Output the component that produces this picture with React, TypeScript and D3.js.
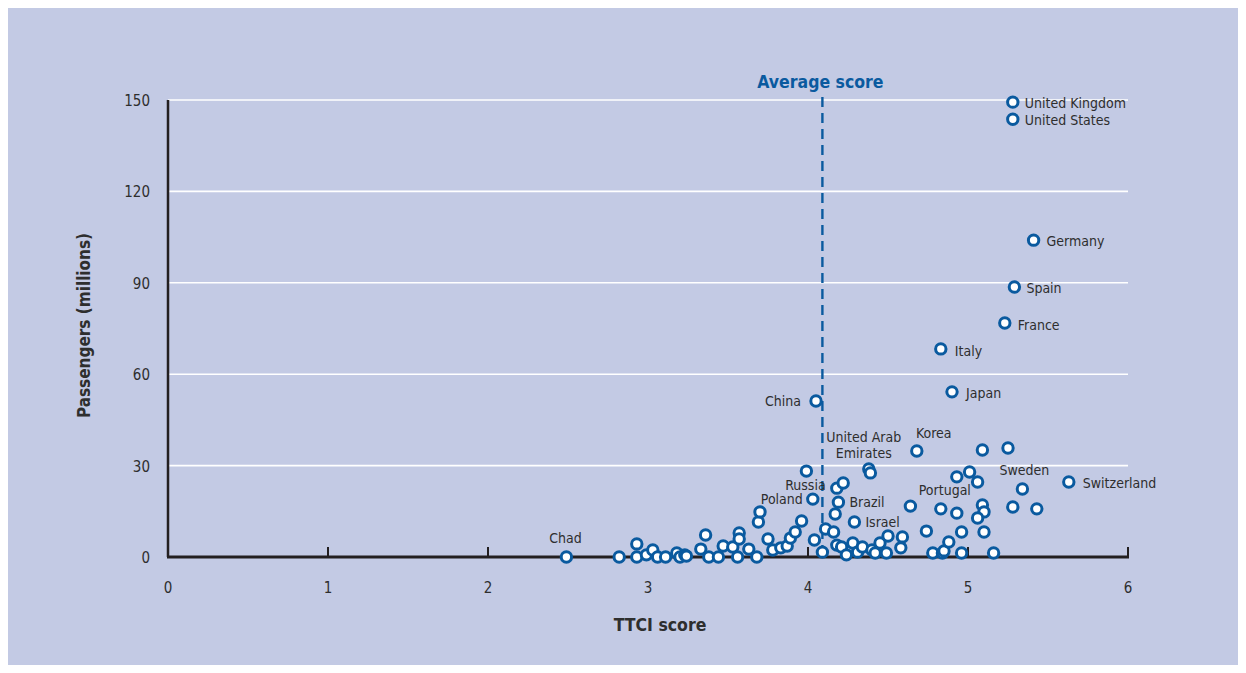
import React from "react";
import * as d3 from "d3";

// ---- Data ----
const countries: string[] = [
  "United Kingdom", "United States", "Germany", "Spain", "France", "Italy", "Japan", "China",
  "Korea", "Switzerland", "Sweden", "Portugal", "Russia", "Poland", "Brazil", "Israel",
  "United Arab Emirates", "Chad",
];
const ttciScores: number[] = [
  5.28, 5.28, 5.41, 5.29, 5.23, 4.83, 4.90, 4.05,
  4.68, 5.63, 5.34, 4.83, 3.99, 4.03, 4.19, 4.29,
  4.38, 2.49,
  2.82, 2.93, 2.93, 2.99, 3.03, 3.06, 3.11, 3.18, 3.20, 3.23, 3.24, 3.33, 3.36, 3.38, 3.44, 3.47,
  3.53, 3.56, 3.57, 3.57, 3.63, 3.68, 3.69, 3.70, 3.75, 3.78, 3.83, 3.87, 3.89, 3.92, 3.96,
  4.04, 4.09, 4.11, 4.16, 4.18, 4.22, 4.17, 4.39, 4.18, 4.21, 4.24, 4.28, 4.31, 4.34, 4.40,
  4.42, 4.45, 4.49, 4.50, 4.59, 4.58, 4.64, 4.74, 4.78, 4.84, 4.85, 4.88, 4.93, 4.96, 4.96,
  4.93, 5.01, 5.06, 5.09, 5.25, 5.09, 5.10, 5.06, 5.10, 5.16, 5.28, 5.43,
];
const passengers: number[] = [
  149.3, 143.7, 104.0, 88.6, 76.8, 68.3, 54.2, 51.2,
  34.8, 24.6, 22.3, 15.8, 28.2, 19.0, 18.0, 11.5,
  28.9, 0,
  0, 0, 4.3, 0.7, 2.3, 0, 0, 1.3, 0, 0.7, 0.3, 2.6, 7.2, 0, 0, 3.6,
  3.3, 0, 7.9, 5.9, 2.6, 0, 11.5, 14.8, 5.9, 2.3, 3.0, 3.6, 6.2, 8.2, 11.8,
  5.6, 1.6, 9.2, 8.2, 22.6, 24.3, 14.1, 27.6, 3.9, 3.3, 0.7, 4.6, 1.6, 3.3, 2.3,
  1.3, 4.6, 1.3, 6.9, 6.6, 3.0, 16.7, 8.5, 1.3, 1.3, 2.0, 4.9, 14.4, 8.2, 1.3,
  26.3, 27.9, 24.6, 35.1, 35.8, 17.1, 14.8, 12.8, 8.2, 1.3, 16.4, 15.8,
];
const xTicks: number[] = [0, 1, 2, 3, 4, 5, 6];
const yTicks: number[] = [0, 30, 60, 90, 120, 150];
const averageScore = 4.09;

// label placement (styles, kept apart from data)
type LabelPos = { dx: number; dy: number; anchor: "start" | "middle" | "end"; lines?: string[] };
const labelPlacement: Record<string, LabelPos> = {
  "United Kingdom": { dx: 12, dy: 6, anchor: "start" },
  "United States": { dx: 12, dy: 6, anchor: "start" },
  Germany: { dx: 13, dy: 6, anchor: "start" },
  Spain: { dx: 12, dy: 6, anchor: "start" },
  France: { dx: 13, dy: 7, anchor: "start" },
  Italy: { dx: 14, dy: 7, anchor: "start" },
  Japan: { dx: 14, dy: 6, anchor: "start" },
  China: { dx: -15, dy: 5, anchor: "end" },
  Korea: { dx: 17, dy: -13, anchor: "middle" },
  Switzerland: { dx: 14, dy: 6, anchor: "start" },
  Sweden: { dx: 2, dy: -14, anchor: "middle" },
  Portugal: { dx: 4, dy: -14, anchor: "middle" },
  Russia: { dx: -1, dy: 19, anchor: "middle" },
  Poland: { dx: -10, dy: 5, anchor: "end" },
  Brazil: { dx: 11, dy: 5, anchor: "start" },
  Israel: { dx: 11, dy: 5, anchor: "start" },
  "United Arab Emirates": { dx: -5, dy: -27, anchor: "middle", lines: ["United Arab", "Emirates"] },
  Chad: { dx: -1, dy: -14, anchor: "middle" },
};

const W = 1230;
const H = 657;
const BG = "#c3cae4";
const BLUE = "#0a5a9f";
const TEXT = "#2e2e2e";
const FONT = "'Liberation Sans Narrow', 'DejaVu Sans Condensed', 'Arial Narrow', sans-serif";

export default function App() {
  const x = d3.scaleLinear().domain([0, 6]).range([160, 1120]);
  const y = d3.scaleLinear().domain([0, 150]).range([549, 92]);

  const points = ttciScores.map((s, i) => ({ s, p: passengers[i], name: countries[i] || "" }));

  return (
    <svg width={W} height={H} style={{ display: "block" }} fontFamily={FONT}>
      <rect x={0} y={0} width={W} height={H} fill={BG} />
      {/* gridlines */}
      {yTicks.filter((t) => t > 0).map((t) => (
        <line key={"g" + t} x1={x(0)} x2={x(6)} y1={y(t)} y2={y(t)} stroke="#ffffff" strokeWidth={1.6} />
      ))}
      {/* y tick labels */}
      {yTicks.map((t) => (
        <text key={"yl" + t} x={x(0) - 18} y={y(t) + 6} textAnchor="end" fontSize={15} fill={TEXT}>
          {t}
        </text>
      ))}
      {/* x tick labels */}
      {xTicks.map((t) => (
        <text key={"xl" + t} x={x(t)} y={y(0) + 36} textAnchor="middle" fontSize={15} fill={TEXT}>
          {t}
        </text>
      ))}
      {/* x ticks */}
      {xTicks.map((t) => (
        <line key={"xt" + t} x1={x(t)} x2={x(t)} y1={y(0)} y2={y(0) - 10} stroke="#231f20" strokeWidth={2} />
      ))}
      {/* axes */}
      <line x1={x(0)} x2={x(0)} y1={y(150)} y2={y(0)} stroke="#231f20" strokeWidth={2.5} />
      <line x1={x(0) - 1} x2={x(6) + 1} y1={y(0)} y2={y(0)} stroke="#231f20" strokeWidth={3} />
      {/* average line */}
      <line
        x1={x(averageScore)}
        x2={x(averageScore)}
        y1={y(150) - 3}
        y2={y(0)}
        stroke={BLUE}
        strokeWidth={2.4}
        strokeDasharray="10,6"
      />
      <text x={x(averageScore) - 2} y={80} textAnchor="middle" fontSize={17.5} fontWeight="bold" fill={BLUE}>
        Average score
      </text>
      {/* points */}
      {points.map((d, i) => (
        <circle key={"p" + i} cx={x(d.s)} cy={y(d.p)} r={5.2} fill="#ffffff" stroke={BLUE} strokeWidth={3} />
      ))}
      {/* labels */}
      {points
        .filter((d) => d.name)
        .map((d) => {
          const lp = labelPlacement[d.name];
          const lines = lp.lines || [d.name];
          return (
            <text
              key={"l" + d.name}
              x={x(d.s) + lp.dx}
              y={y(d.p) + lp.dy}
              textAnchor={lp.anchor}
              fontSize={14}
              fill={TEXT}
            >
              {lines.map((ln, k) => (
                <tspan key={k} x={x(d.s) + lp.dx} dy={k === 0 ? 0 : 16}>
                  {ln}
                </tspan>
              ))}
            </text>
          );
        })}
      {/* axis titles */}
      <text x={652} y={623} textAnchor="middle" fontSize={17.5} fontWeight="bold" fill={TEXT}>
        TTCI score
      </text>
      <text
        transform={`translate(82, ${y(75) - 3}) rotate(-90)`}
        textAnchor="middle"
        fontSize={17}
        fontWeight="bold"
        fill={TEXT}
      >
        Passengers (millions)
      </text>
    </svg>
  );
}
